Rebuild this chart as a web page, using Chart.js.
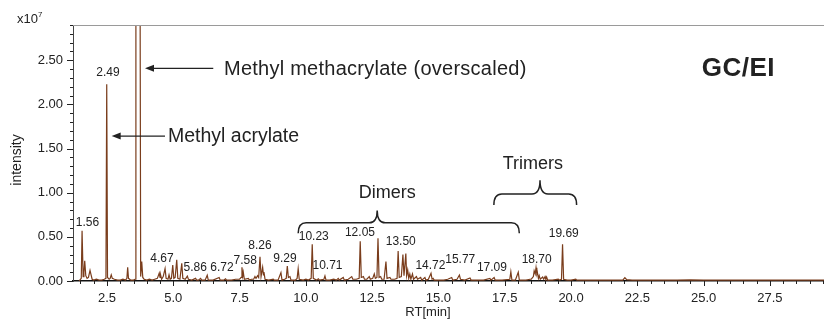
<!DOCTYPE html>
<html>
<head>
<meta charset="utf-8">
<script src="https://cdn.jsdelivr.net/npm/chart.js@4.4.1/dist/chart.umd.min.js"></script>
<style>
  html, body { margin: 0; padding: 0; background: #ffffff; }
  #wrap { width: 824px; height: 324px; }
</style>
</head>
<body>
<div id="wrap"><canvas id="c" width="824" height="324"></canvas></div>
<script>
// ---- Data (retention time in min, intensity in units of 1e7) ----
const retentionTime = [
  1.45, 1.50, 1.53, 1.56, 1.60, 1.63, 1.66, 1.70, 1.75, 1.80, 1.86, 1.90, 1.94, 2.00, 2.10, 2.20, 2.30, 2.40, 2.46, 2.49,
  2.52, 2.58, 2.62, 2.66, 2.70, 2.78, 2.90, 3.00, 3.10, 3.20, 3.25, 3.28, 3.31, 3.40, 3.50, 3.56, 3.59, 3.74, 3.77, 3.81,
  3.85, 3.90, 4.00, 4.10, 4.20, 4.30, 4.40, 4.47, 4.50, 4.52, 4.56, 4.62, 4.69, 4.73, 4.80, 4.84, 4.88, 4.93, 4.98, 5.02,
  5.07, 5.13, 5.17, 5.25, 5.32, 5.36, 5.45, 5.53, 5.57, 5.70, 5.84, 5.88, 5.95, 6.03, 6.07, 6.20, 6.28, 6.32, 6.50, 6.73,
  6.77, 6.90, 6.97, 7.01, 7.20, 7.35, 7.50, 7.56, 7.59, 7.62, 7.64, 7.68, 7.83, 7.87, 7.95, 8.03, 8.08, 8.12, 8.18, 8.22,
  8.27, 8.31, 8.37, 8.40, 8.42, 8.46, 8.60, 8.77, 8.81, 8.95, 9.06, 9.10, 9.20, 9.26, 9.30, 9.34, 9.40, 9.44, 9.60, 9.67,
  9.71, 9.75, 9.90, 10.00, 10.10, 10.20, 10.24, 10.28, 10.40, 10.47, 10.51, 10.68, 10.72, 10.76, 10.90, 11.05, 11.15, 11.22, 11.26, 11.41,
  11.45, 11.60, 11.73, 11.77, 11.90, 12.01, 12.05, 12.09, 12.17, 12.21, 12.30, 12.39, 12.43, 12.52, 12.58, 12.62, 12.68, 12.72, 12.76, 12.82,
  12.86, 12.95, 13.02, 13.06, 13.17, 13.21, 13.35, 13.44, 13.48, 13.52, 13.60, 13.66, 13.70, 13.77, 13.80, 13.84, 13.88, 13.92, 13.96, 14.02,
  14.06, 14.17, 14.21, 14.33, 14.37, 14.49, 14.53, 14.62, 14.72, 14.76, 14.80, 14.84, 15.00, 15.20, 15.35, 15.50, 15.54, 15.70, 15.79, 15.83,
  16.00, 16.19, 16.23, 16.50, 16.70, 16.94, 16.98, 17.10, 17.14, 17.40, 17.69, 17.73, 17.77, 17.90, 18.01, 18.05, 18.30, 18.45, 18.50, 18.58,
  18.61, 18.65, 18.68, 18.71, 18.73, 18.77, 18.80, 18.84, 18.93, 18.97, 19.02, 19.05, 19.08, 19.12, 19.30, 19.52, 19.56, 19.64, 19.68, 19.72,
  19.85, 20.00, 20.18, 20.22, 20.50, 21.00, 21.50, 21.95, 22.03, 22.10, 22.30, 23.00, 24.00, 24.50, 25.00, 26.00, 27.00, 28.00, 29.00, 29.60
];
const intensity = [
  0.00, 0.02, 0.03, 0.57, 0.05, 0.10, 0.23, 0.06, 0.03, 0.04, 0.12, 0.07, 0.02, 0.01, 0.02, 0.01, 0.01, 0.02, 0.03, 2.23,
  0.04, 0.02, 0.03, 0.07, 0.03, 0.02, 0.01, 0.01, 0.02, 0.01, 0.03, 0.155, 0.03, 0.01, 0.01, 0.02, 4.50, 4.50, 0.05, 0.22,
  0.04, 0.02, 0.01, 0.02, 0.01, 0.02, 0.03, 0.09, 0.04, 0.07, 0.02, 0.05, 0.14, 0.03, 0.02, 0.07, 0.02, 0.03, 0.18, 0.03,
  0.04, 0.24, 0.03, 0.02, 0.20, 0.03, 0.02, 0.055, 0.02, 0.01, 0.03, 0.01, 0.01, 0.03, 0.01, 0.01, 0.065, 0.01, 0.01, 0.04,
  0.01, 0.01, 0.025, 0.01, 0.01, 0.02, 0.02, 0.04, 0.155, 0.06, 0.10, 0.02, 0.03, 0.01, 0.02, 0.02, 0.05, 0.03, 0.06, 0.04,
  0.275, 0.05, 0.155, 0.07, 0.10, 0.02, 0.01, 0.02, 0.01, 0.01, 0.095, 0.01, 0.02, 0.03, 0.17, 0.04, 0.05, 0.01, 0.01, 0.03,
  0.14, 0.02, 0.01, 0.02, 0.01, 0.03, 0.415, 0.03, 0.01, 0.025, 0.01, 0.02, 0.057, 0.01, 0.01, 0.02, 0.01, 0.03, 0.01, 0.04,
  0.01, 0.02, 0.05, 0.02, 0.02, 0.03, 0.45, 0.04, 0.05, 0.02, 0.02, 0.05, 0.02, 0.03, 0.08, 0.03, 0.04, 0.485, 0.04, 0.05,
  0.02, 0.02, 0.22, 0.03, 0.04, 0.02, 0.02, 0.03, 0.34, 0.04, 0.05, 0.30, 0.06, 0.31, 0.06, 0.125, 0.03, 0.08, 0.02, 0.08,
  0.02, 0.05, 0.02, 0.04, 0.01, 0.04, 0.01, 0.02, 0.087, 0.02, 0.03, 0.01, 0.01, 0.01, 0.02, 0.04, 0.01, 0.02, 0.068, 0.02,
  0.01, 0.035, 0.01, 0.01, 0.01, 0.03, 0.01, 0.04, 0.01, 0.01, 0.02, 0.105, 0.01, 0.01, 0.10, 0.01, 0.01, 0.02, 0.02, 0.05,
  0.115, 0.08, 0.15, 0.08, 0.10, 0.03, 0.06, 0.02, 0.045, 0.02, 0.05, 0.02, 0.045, 0.01, 0.01, 0.02, 0.01, 0.02, 0.415, 0.02,
  0.01, 0.01, 0.02, 0.01, 0.01, 0.01, 0.01, 0.01, 0.037, 0.015, 0.01, 0.01, 0.01, 0.012, 0.01, 0.01, 0.01, 0.01, 0.01, 0.01
];
const peakLabels = ['1.56', '2.49', '4.67', '5.86', '6.72', '7.58', '8.26', '9.29', '10.23', '10.71',
                    '12.05', '13.50', '14.72', '15.77', '17.09', '18.70', '19.69'];
const xTickLabels = ['2.5', '5.0', '7.5', '10.0', '12.5', '15.0', '17.5', '20.0', '22.5', '25.0', '27.5'];
const yTickLabels = ['0.00', '0.50', '1.00', '1.50', '2.00', '2.50'];
const compoundNames = ['Methyl methacrylate (overscaled)', 'Methyl acrylate'];
const groupNames = ['Dimers', 'Trimers'];
const methodLabel = 'GC/EI';

// ---- Layout (positions in data coordinates) ----
const X_MIN = 1.218, X_MAX = 29.54, Y_MIN = 0, Y_MAX = 2.9;
const X_MINOR = 0.5, Y_MINOR = 0.1;
const FONT = "'Liberation Sans', Arial, Helvetica, sans-serif";
const TEXT = '#222222';
const peakLabelPos = [
  [1.765, 0.657], [2.538, 2.356], [4.574, 0.249], [5.830, 0.155], [6.836, 0.155], [7.715, 0.230],
  [8.269, 0.400], [9.212, 0.257], [10.298, 0.502], [10.815, 0.170], [12.040, 0.547], [13.579, 0.445],
  [14.698, 0.170], [15.822, 0.238], [17.017, 0.155], [18.703, 0.246], [19.725, 0.532]
];
const arrows = [
  { head: 3.933, tail: 6.508, y: 2.409, textX: 6.912, size: 20, spacing: '0.25px' },
  { head: 2.677, tail: 4.687, y: 1.642, textX: 4.80, size: 19.5, spacing: '0px' }
];
const braces = [
  { x1: 9.71, x2: 18.05, xc: 12.69, yLine: 0.66, yEnd: 0.54, yTip: 0.80, textX: 13.07, textY: 0.997 },
  { x1: 17.09, x2: 20.21, xc: 18.83, yLine: 0.985, yEnd: 0.86, yTip: 1.14, textX: 18.56, textY: 1.325 }
];

const xMajor = xTickLabels.map(Number);
const yMajor = yTickLabels.map(Number);
const isMajor = (v, arr) => arr.some(m => Math.abs(m - v) < 1e-6);
const xTickValues = [];
for (let v = 1.5; v <= X_MAX + 1e-9; v += X_MINOR) xTickValues.push(Math.round(v * 10) / 10);
const yTickValues = [];
for (let v = Y_MIN; v <= Y_MAX + 1e-9; v += Y_MINOR) yTickValues.push(Math.round(v * 10) / 10);

const annotationPlugin = {
  id: 'annot',
  afterDraw(chart) {
    const ctx = chart.ctx;
    const xs = chart.scales.x, ys = chart.scales.y;
    const ca = chart.chartArea;
    const px = v => xs.getPixelForValue(v);
    const py = v => ys.getPixelForValue(v);
    ctx.save();

    // top frame line
    ctx.strokeStyle = '#9a9a9a';
    ctx.lineWidth = 1.2;
    ctx.beginPath();
    ctx.moveTo(ca.left, ca.top + 0.5);
    ctx.lineTo(824, ca.top + 0.5);
    ctx.stroke();

    // tick marks
    ctx.strokeStyle = '#222';
    ctx.lineWidth = 1;
    ctx.beginPath();
    xTickValues.forEach(v => {
      const x = Math.round(px(v)) + 0.5;
      const len = isMajor(v, xMajor) ? 5 : 3;
      ctx.moveTo(x, ca.bottom);
      ctx.lineTo(x, ca.bottom + len);
    });
    yTickValues.forEach(v => {
      const y = Math.round(py(v)) + 0.5;
      const len = isMajor(v, yMajor) ? 6 : 3;
      ctx.moveTo(ca.left, y);
      ctx.lineTo(ca.left - len, y);
    });
    ctx.stroke();

    // peak labels
    ctx.fillStyle = TEXT;
    ctx.font = '12px ' + FONT;
    ctx.textAlign = 'center';
    ctx.textBaseline = 'middle';
    peakLabels.forEach((t, i) => {
      ctx.fillText(t, px(peakLabelPos[i][0]), py(peakLabelPos[i][1]));
    });

    // arrows + compound names
    ctx.strokeStyle = '#222';
    ctx.lineWidth = 1.2;
    ctx.textAlign = 'left';
    arrows.forEach((a, i) => {
      const hx = px(a.head), tx = px(a.tail), y = py(a.y);
      ctx.beginPath();
      ctx.moveTo(tx, y);
      ctx.lineTo(hx + 6, y);
      ctx.stroke();
      ctx.beginPath();
      ctx.moveTo(hx, y);
      ctx.lineTo(hx + 9, y - 3.5);
      ctx.lineTo(hx + 9, y + 3.5);
      ctx.closePath();
      ctx.fill();
      ctx.font = a.size + 'px ' + FONT;
      ctx.letterSpacing = a.spacing;
      ctx.fillText(compoundNames[i], px(a.textX), y + 1);
      ctx.letterSpacing = '0px';
    });

    // braces + group names
    ctx.lineWidth = 1.5;
    ctx.font = '18px ' + FONT;
    ctx.textAlign = 'center';
    braces.forEach((b, i) => {
      const x1 = px(b.x1), x2 = px(b.x2), xc = px(b.xc);
      const yl = py(b.yLine), ye = py(b.yEnd), yt = py(b.yTip);
      const r = 8;
      ctx.beginPath();
      ctx.moveTo(x1, ye);
      ctx.quadraticCurveTo(x1, yl, x1 + r, yl);
      ctx.lineTo(xc - r, yl);
      ctx.quadraticCurveTo(xc, yl, xc, yt);
      ctx.quadraticCurveTo(xc, yl, xc + r, yl);
      ctx.lineTo(x2 - r, yl);
      ctx.quadraticCurveTo(x2, yl, x2, ye);
      ctx.stroke();
      ctx.fillText(groupNames[i], px(b.textX), py(b.textY));
    });

    // method label
    ctx.font = 'bold 26px ' + FONT;
    ctx.letterSpacing = '0.5px';
    ctx.textAlign = 'left';
    ctx.fillText(methodLabel, px(24.93), py(2.405));
    ctx.letterSpacing = '0px';

    // axis titles
    ctx.font = '13px ' + FONT;
    ctx.textAlign = 'center';
    ctx.fillText('RT[min]', 428, 312);
    ctx.save();
    ctx.translate(17, 160);
    ctx.rotate(-Math.PI / 2);
    ctx.font = '14px ' + FONT;
    ctx.fillText('intensity', 0, 0);
    ctx.restore();

    // multiplier
    ctx.textAlign = 'left';
    ctx.textBaseline = 'alphabetic';
    ctx.font = '13px ' + FONT;
    ctx.fillText('x10', 17, 23);
    const w = ctx.measureText('x10').width;
    ctx.font = '8px ' + FONT;
    ctx.fillText('7', 17 + w, 17);

    ctx.restore();
  }
};

new Chart(document.getElementById('c'), {
  type: 'line',
  data: {
    datasets: [{
      data: retentionTime.map((t, i) => ({ x: t, y: intensity[i] })),
      borderColor: '#7a3d1c',
      borderWidth: 1.2,
      pointRadius: 0,
      tension: 0,
      fill: false
    }]
  },
  options: {
    responsive: false,
    animation: false,
    devicePixelRatio: 1,
    layout: { padding: { left: 0, top: 25, right: 0, bottom: 0 } },
    plugins: { legend: { display: false }, tooltip: { enabled: false } },
    scales: {
      x: {
        type: 'linear',
        min: X_MIN, max: X_MAX,
        afterBuildTicks: s => { s.ticks = xTickValues.map(v => ({ value: v })); },
        afterFit: s => { s.height = 43; s.paddingLeft = 0; s.paddingRight = 0; },
        grid: { display: false, drawTicks: false },
        border: { display: true, color: '#111', width: 1.6 },
        ticks: {
          autoSkip: false, maxRotation: 0, minRotation: 0,
          padding: 10,
          color: TEXT,
          font: { family: FONT, size: 13 },
          callback: v => { const i = xMajor.findIndex(m => Math.abs(m - v) < 1e-6); return i >= 0 ? xTickLabels[i] : ''; }
        }
      },
      y: {
        min: Y_MIN, max: Y_MAX,
        afterBuildTicks: s => { s.ticks = yTickValues.map(v => ({ value: v })); },
        afterFit: s => { s.width = 73; s.paddingTop = 0; s.paddingBottom = 0; },
        grid: { display: false, drawTicks: false },
        border: { display: true, color: '#444', width: 1 },
        ticks: {
          autoSkip: false,
          padding: 10,
          color: TEXT,
          font: { family: FONT, size: 13 },
          callback: v => { const i = yMajor.findIndex(m => Math.abs(m - v) < 1e-6); return i >= 0 ? yTickLabels[i] : ''; }
        }
      }
    }
  },
  plugins: [annotationPlugin]
});
</script>
</body>
</html>
